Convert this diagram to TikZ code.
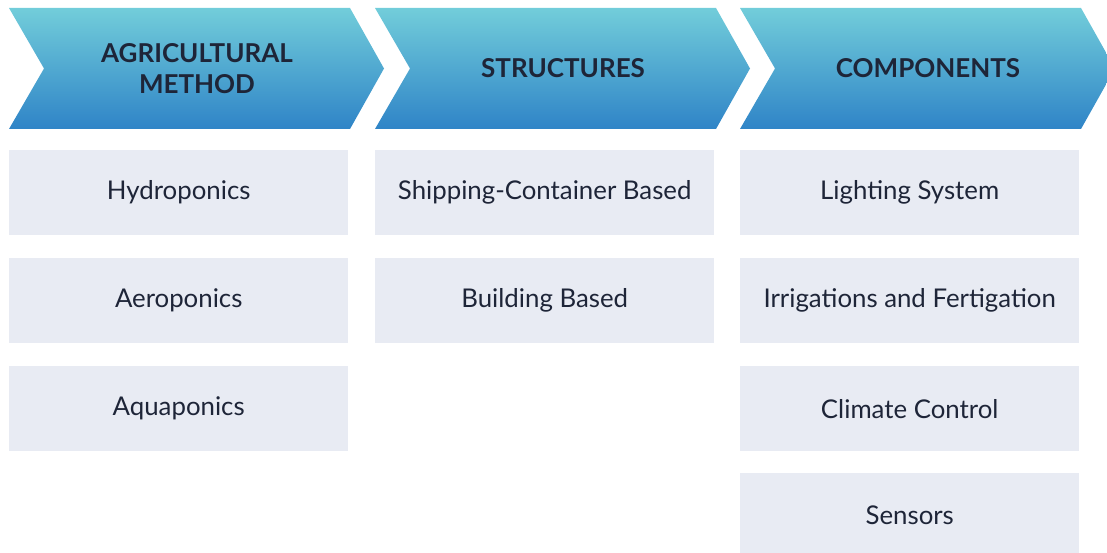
\documentclass[tikz,border=0pt]{standalone}
\usepackage{fontspec}
\setmainfont{Lato}
\definecolor{ink}{HTML}{1E2538}
\definecolor{boxfill}{HTML}{E8EBF3}
\definecolor{hdtop}{HTML}{72CDDA}
\definecolor{hdmid}{HTML}{44C3E6}
\definecolor{hdbot}{HTML}{2F84C7}
\begin{document}
\begin{tikzpicture}[x=1pt,y=-1pt,
  header/.style={font=\bfseries\fontsize{26}{31}\selectfont, text=ink, align=center, inner sep=0pt},
  band/.style={top color=hdtop, middle color=hdmid, bottom color=hdbot, draw=none},
  item/.style={fill=boxfill, minimum width=339pt, minimum height=85pt, inner sep=0pt,
    anchor=north west, font=\fontsize{25.8}{30}\selectfont, text=ink}]
\useasboundingbox (0,0) rectangle (1107,553);
\clip (0,0) rectangle (1107,553);

% chevron bands across the top
\foreach \x in {9,375,740}{
  \shade[band] (\x,8) -- ++(341,0) -- ++(34,60.5) -- ++(-34,60.5) -- ++(-341,0) -- ++(35,-60.5) -- cycle;
}
\node[header] (hA) at (197,68.5) {AGRICULTURAL\\METHOD};
\node[header] (hB) at (563,68.5) {STRUCTURES};
\node[header] (hC) at (928,68.5) {COMPONENTS};

% agricultural methods
\node[item] (a1) at (9,150) {Hydroponics};
\node[item] (a2) at (9,258) {Aeroponics};
\node[item] (a3) at (9,366) {Aquaponics};

% structures
\node[item] (b1) at (375,150) {Shipping-Container Based};
\node[item] (b2) at (375,258) {Building Based};

% components
\node[item] (c1) at (740,150) {Lighting System};
\node[item] (c2) at (740,258) {Irrigations and Fertigation};
\node[item] (c3) at (740,366) {Climate Control};
\node[item] (c4) at (740,473) {Sensors};
\end{tikzpicture}
\end{document}
